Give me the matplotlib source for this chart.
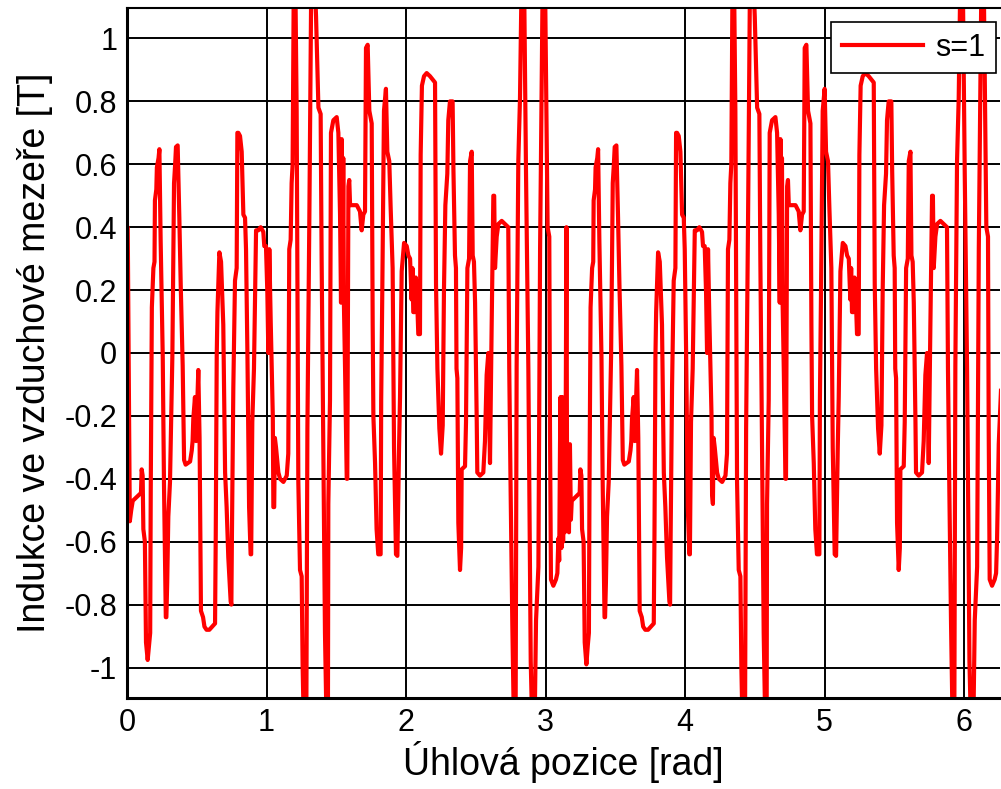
import numpy as np
import matplotlib
matplotlib.use("Agg")
import matplotlib.pyplot as plt

# first half-turn (0 .. pi)
theta_1 = [
    0.000, 0.005, 0.012, 0.020, 0.030, 0.041, 0.100, 0.105, 0.112, 0.117,
    0.128, 0.136, 0.148, 0.158, 0.166, 0.170, 0.178, 0.189, 0.197, 0.200,
    0.210, 0.214, 0.226, 0.232, 0.241, 0.256, 0.265, 0.278, 0.282, 0.288,
    0.296, 0.308, 0.325, 0.337, 0.345, 0.351, 0.363, 0.375, 0.385, 0.399,
    0.409, 0.420, 0.452, 0.464, 0.470, 0.475, 0.487, 0.495, 0.511, 0.520,
    0.530, 0.545, 0.555, 0.570, 0.590, 0.610, 0.631, 0.636, 0.643, 0.648,
    0.662, 0.674, 0.690, 0.703, 0.714, 0.726, 0.743, 0.748, 0.752, 0.762,
    0.774, 0.786, 0.791, 0.798, 0.810, 0.822, 0.834, 0.846, 0.853, 0.863,
    0.875, 0.886, 0.890, 0.898, 0.910, 0.925, 0.941, 0.958, 0.977, 0.984,
    0.996, 1.006, 1.013, 1.020, 1.030, 1.045, 1.049, 1.055, 1.060, 1.068,
    1.085, 1.097, 1.121, 1.145, 1.156, 1.163, 1.173, 1.180, 1.187, 1.195,
    1.205, 1.216, 1.228, 1.240, 1.252, 1.259, 1.270, 1.285, 1.293, 1.307,
    1.321, 1.340, 1.355, 1.372, 1.388, 1.395, 1.419, 1.431, 1.440, 1.443,
    1.455, 1.462, 1.479, 1.503, 1.515, 1.527, 1.534, 1.539, 1.545, 1.550,
    1.555, 1.563, 1.575, 1.579, 1.587, 1.593, 1.599, 1.611, 1.647, 1.670,
    1.682, 1.694, 1.706, 1.713, 1.725, 1.737, 1.754, 1.761, 1.766, 1.778,
    1.789, 1.801, 1.818, 1.822, 1.830, 1.842, 1.856, 1.866, 1.880, 1.890,
    1.904, 1.914, 1.928, 1.938, 1.950, 1.957, 1.969, 1.986, 2.005, 2.017,
    2.029, 2.040, 2.046, 2.052, 2.064, 2.070, 2.076, 2.088, 2.100, 2.105,
    2.114, 2.129, 2.148, 2.172, 2.208, 2.215, 2.225, 2.239, 2.251, 2.263,
    2.272, 2.282, 2.296, 2.303, 2.315, 2.334, 2.340, 2.351, 2.358, 2.362,
    2.368, 2.375, 2.387, 2.395, 2.399, 2.423, 2.430, 2.440, 2.452, 2.459,
    2.471, 2.478, 2.487, 2.495, 2.507, 2.511, 2.530, 2.554, 2.566, 2.578,
    2.590, 2.602, 2.614, 2.626, 2.632, 2.638, 2.650, 2.662, 2.686, 2.710,
    2.733, 2.740, 2.750, 2.762, 2.774, 2.785, 2.793, 2.805, 2.817, 2.829,
    2.845, 2.860, 2.877, 2.894, 2.908, 2.920, 2.932, 2.949, 2.961, 2.980,
    2.995, 3.008, 3.015, 3.027, 3.032, 3.039, 3.056, 3.075, 3.085, 3.092,
    3.098, 3.104, 3.108, 3.114, 3.120, 3.126, 3.132, 3.138, 3.144,
]
b_1 = [
    0.40, 0.40, -0.02, -0.535, -0.50, -0.47, -0.445, -0.37, -0.39, -0.56,
    -0.60, -0.92, -0.976, -0.93, -0.89, -0.44, 0.145, 0.27, 0.29, 0.485,
    0.52, 0.59, 0.62, 0.648, 0.357, -0.01, -0.42, -0.84, -0.84, -0.73,
    -0.52, -0.41, -0.01, 0.54, 0.60, 0.655, 0.66, 0.43, 0.215, -0.04,
    -0.34, -0.355, -0.345, -0.31, -0.28, -0.21, -0.14, -0.28, -0.054, -0.27,
    -0.82, -0.84, -0.87, -0.88, -0.88, -0.87, -0.86, -0.58, -0.01, 0.13,
    0.32, 0.29, 0.09, -0.38, -0.49, -0.65, -0.79, -0.80, -0.58, -0.11,
    0.23, 0.27, 0.70, 0.70, 0.69, 0.64, 0.44, 0.43, 0.33, 0.00,
    -0.49, -0.64, -0.64, -0.22, -0.05, 0.39, 0.39, 0.40, 0.385, 0.34,
    0.34, 0.19, 0.00, 0.33, 0.10, -0.20, -0.49, -0.49, -0.27, -0.30,
    -0.38, -0.40, -0.41, -0.39, -0.32, 0.33, 0.36, 0.54, 0.60, 1.15,
    1.25, 0.77, -0.41, -0.69, -0.71, -1.00, -1.25, -1.20, -0.24, 0.43,
    1.20, 1.25, 1.07, 0.78, 0.76, 0.30, -0.89, -1.20, -1.20, -0.48,
    -0.15, 0.70, 0.74, 0.75, 0.70, 0.44, 0.16, 0.68, 0.20, 0.62,
    0.15, -0.05, -0.40, -0.40, 0.53, 0.55, 0.47, 0.47, 0.47, 0.45,
    0.39, 0.44, 0.45, 0.97, 0.98, 0.77, 0.73, 0.09, -0.20, -0.35,
    -0.56, -0.64, -0.64, -0.15, 0.20, 0.77, 0.84, 0.64, 0.61, 0.46,
    0.27, -0.30, -0.64, -0.645, -0.30, -0.14, 0.26, 0.35, 0.34, 0.31,
    0.30, 0.17, 0.27, 0.13, 0.13, 0.24, 0.22, 0.06, 0.06, 0.63,
    0.85, 0.88, 0.89, 0.88, 0.86, 0.22, -0.05, -0.24, -0.32, -0.23,
    0.20, 0.47, 0.57, 0.74, 0.80, 0.80, 0.58, 0.31, 0.27, -0.05,
    -0.08, -0.54, -0.69, -0.62, -0.37, -0.36, -0.22, 0.27, 0.30, 0.61,
    0.64, 0.31, 0.29, 0.16, -0.22, -0.38, -0.39, -0.38, -0.28, -0.07,
    0.00, -0.35, 0.09, 0.50, 0.50, 0.27, 0.37, 0.41, 0.42, 0.41,
    0.40, -0.05, -0.44, -0.86, -1.20, -1.25, -0.04, 0.61, 0.81, 1.20,
    1.25, 0.58, -0.05, -0.98, -1.25, -1.25, -0.85, -0.68, 0.33, 1.20,
    1.25, 0.70, 0.40, 0.37, -0.24, -0.72, -0.74, -0.72, -0.70, -0.59,
    -0.66, -0.29, -0.14, -0.62, -0.14, -0.60, -0.29, -0.57, -0.30,
]

# second half-turn (pi .. right edge)
theta_2 = [
    3.150, 3.155, 3.160, 3.168, 3.175, 3.182, 3.188, 3.245, 3.250, 3.257,
    3.262, 3.273, 3.281, 3.293, 3.303, 3.311, 3.315, 3.323, 3.334, 3.342,
    3.345, 3.355, 3.359, 3.371, 3.377, 3.386, 3.401, 3.410, 3.423, 3.427,
    3.433, 3.441, 3.453, 3.470, 3.482, 3.490, 3.496, 3.508, 3.520, 3.530,
    3.544, 3.554, 3.565, 3.597, 3.609, 3.615, 3.620, 3.632, 3.640, 3.656,
    3.665, 3.675, 3.690, 3.700, 3.715, 3.735, 3.755, 3.776, 3.781, 3.788,
    3.793, 3.807, 3.819, 3.835, 3.848, 3.859, 3.871, 3.888, 3.893, 3.897,
    3.907, 3.919, 3.931, 3.936, 3.943, 3.955, 3.967, 3.979, 3.991, 3.998,
    4.008, 4.020, 4.031, 4.035, 4.043, 4.055, 4.070, 4.086, 4.103, 4.122,
    4.129, 4.141, 4.151, 4.158, 4.165, 4.175, 4.190, 4.194, 4.200, 4.205,
    4.213, 4.230, 4.242, 4.266, 4.290, 4.301, 4.308, 4.318, 4.325, 4.332,
    4.340, 4.350, 4.361, 4.373, 4.385, 4.397, 4.404, 4.415, 4.430, 4.438,
    4.452, 4.466, 4.485, 4.500, 4.517, 4.533, 4.540, 4.564, 4.576, 4.585,
    4.588, 4.600, 4.607, 4.624, 4.648, 4.660, 4.672, 4.679, 4.684, 4.690,
    4.695, 4.700, 4.708, 4.720, 4.724, 4.732, 4.738, 4.744, 4.756, 4.792,
    4.815, 4.827, 4.839, 4.851, 4.858, 4.870, 4.882, 4.899, 4.906, 4.911,
    4.923, 4.934, 4.946, 4.963, 4.967, 4.975, 4.987, 5.001, 5.011, 5.025,
    5.035, 5.049, 5.059, 5.073, 5.083, 5.095, 5.102, 5.114, 5.131, 5.150,
    5.162, 5.174, 5.185, 5.191, 5.197, 5.209, 5.215, 5.221, 5.233, 5.245,
    5.250, 5.259, 5.274, 5.293, 5.317, 5.353, 5.360, 5.370, 5.384, 5.396,
    5.408, 5.417, 5.427, 5.441, 5.448, 5.460, 5.479, 5.485, 5.496, 5.503,
    5.507, 5.513, 5.520, 5.532, 5.540, 5.544, 5.568, 5.575, 5.585, 5.597,
    5.604, 5.616, 5.623, 5.632, 5.640, 5.652, 5.656, 5.675, 5.699, 5.711,
    5.723, 5.735, 5.747, 5.759, 5.771, 5.777, 5.783, 5.795, 5.807, 5.831,
    5.855, 5.878, 5.885, 5.895, 5.907, 5.919, 5.930, 5.938, 5.950, 5.962,
    5.974, 5.990, 6.005, 6.022, 6.039, 6.053, 6.065, 6.077, 6.094, 6.106,
    6.125, 6.140, 6.153, 6.160, 6.172, 6.177, 6.184, 6.201, 6.220, 6.230,
    6.237, 6.249, 6.265,
]
b_2 = [
    0.40, -0.535, -0.30, -0.57, -0.29, -0.53, -0.47, -0.445, -0.37, -0.39,
    -0.56, -0.60, -0.92, -0.99, -0.93, -0.89, -0.44, 0.145, 0.27, 0.29,
    0.485, 0.52, 0.59, 0.62, 0.648, 0.357, -0.01, -0.42, -0.84, -0.84,
    -0.73, -0.52, -0.41, -0.01, 0.54, 0.60, 0.655, 0.66, 0.43, 0.215,
    -0.04, -0.34, -0.355, -0.345, -0.31, -0.28, -0.21, -0.14, -0.28, -0.054,
    -0.27, -0.82, -0.84, -0.87, -0.88, -0.88, -0.87, -0.86, -0.58, -0.01,
    0.13, 0.32, 0.29, 0.09, -0.38, -0.49, -0.65, -0.79, -0.80, -0.58,
    -0.11, 0.23, 0.27, 0.70, 0.70, 0.69, 0.64, 0.44, 0.43, 0.33,
    0.00, -0.49, -0.64, -0.64, -0.22, -0.05, 0.39, 0.39, 0.40, 0.385,
    0.34, 0.34, 0.19, 0.00, 0.33, 0.10, -0.20, -0.45, -0.48, -0.27,
    -0.30, -0.38, -0.40, -0.41, -0.39, -0.32, 0.33, 0.36, 0.54, 0.60,
    1.15, 1.25, 0.77, -0.41, -0.69, -0.71, -1.00, -1.25, -1.20, -0.24,
    0.43, 1.20, 1.25, 1.07, 0.78, 0.76, 0.30, -0.89, -1.20, -1.20,
    -0.48, -0.15, 0.70, 0.74, 0.75, 0.70, 0.44, 0.16, 0.68, 0.20,
    0.62, 0.15, -0.05, -0.40, -0.40, 0.53, 0.55, 0.47, 0.47, 0.47,
    0.45, 0.39, 0.44, 0.45, 0.97, 0.98, 0.77, 0.73, 0.09, -0.20,
    -0.35, -0.56, -0.64, -0.64, -0.15, 0.20, 0.77, 0.84, 0.64, 0.61,
    0.46, 0.27, -0.30, -0.64, -0.645, -0.30, -0.14, 0.26, 0.35, 0.34,
    0.31, 0.30, 0.17, 0.27, 0.13, 0.13, 0.24, 0.22, 0.06, 0.06,
    0.63, 0.85, 0.88, 0.89, 0.88, 0.86, 0.22, -0.05, -0.24, -0.32,
    -0.23, 0.20, 0.47, 0.57, 0.74, 0.80, 0.80, 0.58, 0.31, 0.27,
    -0.05, -0.08, -0.54, -0.69, -0.62, -0.37, -0.36, -0.22, 0.27, 0.30,
    0.61, 0.64, 0.31, 0.29, 0.16, -0.22, -0.38, -0.39, -0.38, -0.28,
    -0.07, 0.00, -0.35, 0.09, 0.50, 0.50, 0.27, 0.37, 0.41, 0.42,
    0.41, 0.40, -0.05, -0.44, -0.86, -1.20, -1.25, -0.04, 0.61, 0.81,
    1.20, 1.25, 0.58, -0.05, -0.98, -1.25, -1.25, -0.85, -0.68, 0.33,
    1.20, 1.25, 0.70, 0.40, 0.37, -0.24, -0.72, -0.74, -0.72, -0.70,
    -0.59, -0.29, -0.12,
]

x_ticks = [0, 1, 2, 3, 4, 5, 6]
y_ticks = [-1, -0.8, -0.6, -0.4, -0.2, 0, 0.2, 0.4, 0.6, 0.8, 1]

plt.rcParams["font.family"] = ["Liberation Sans", "DejaVu Sans"]
plt.rcParams["axes.unicode_minus"] = False

theta = np.array(theta_1 + theta_2)
b = np.array(b_1 + b_2)

fig = plt.figure(figsize=(10.01, 7.89), dpi=100, facecolor="white")
ax = fig.add_axes([0.1269, 0.1153, 0.8721, 0.8746])
ax.plot(theta, b, color="#ff0000", lw=3.0, label="s=1", solid_joinstyle="round")

ax.set_xlim(0, 6.258)
ax.set_ylim(-1.097, 1.097)
ax.set_xticks(x_ticks)
ax.set_yticks(y_ticks)
ax.set_xticklabels([f"{v:g}" for v in x_ticks])
ax.set_yticklabels([f"{v:g}" for v in y_ticks])
ax.tick_params(length=0, labelsize=22, pad=7, colors="black")
ax.grid(True, color="black", lw=1.4)
ax.set_axisbelow(True)

for side in ("left", "bottom"):
    ax.spines[side].set_linewidth(2.2)
ax.spines["top"].set_linewidth(1.5)
ax.spines["right"].set_visible(False)

ax.set_xlabel("Úhlová pozice [rad]", fontsize=27, labelpad=2)
ax.set_ylabel("Indukce ve vzduchové mezeře [T]", fontsize=27, labelpad=8)

leg = ax.legend(loc="upper right", bbox_to_anchor=(0.9954, 0.9797),
                borderaxespad=0, fontsize=22, handlelength=2.65,
                handletextpad=0.4, borderpad=0.35, fancybox=False,
                framealpha=1, edgecolor="black")
leg.get_frame().set_linewidth(1.2)

fig.savefig("out.png", dpi=100)
